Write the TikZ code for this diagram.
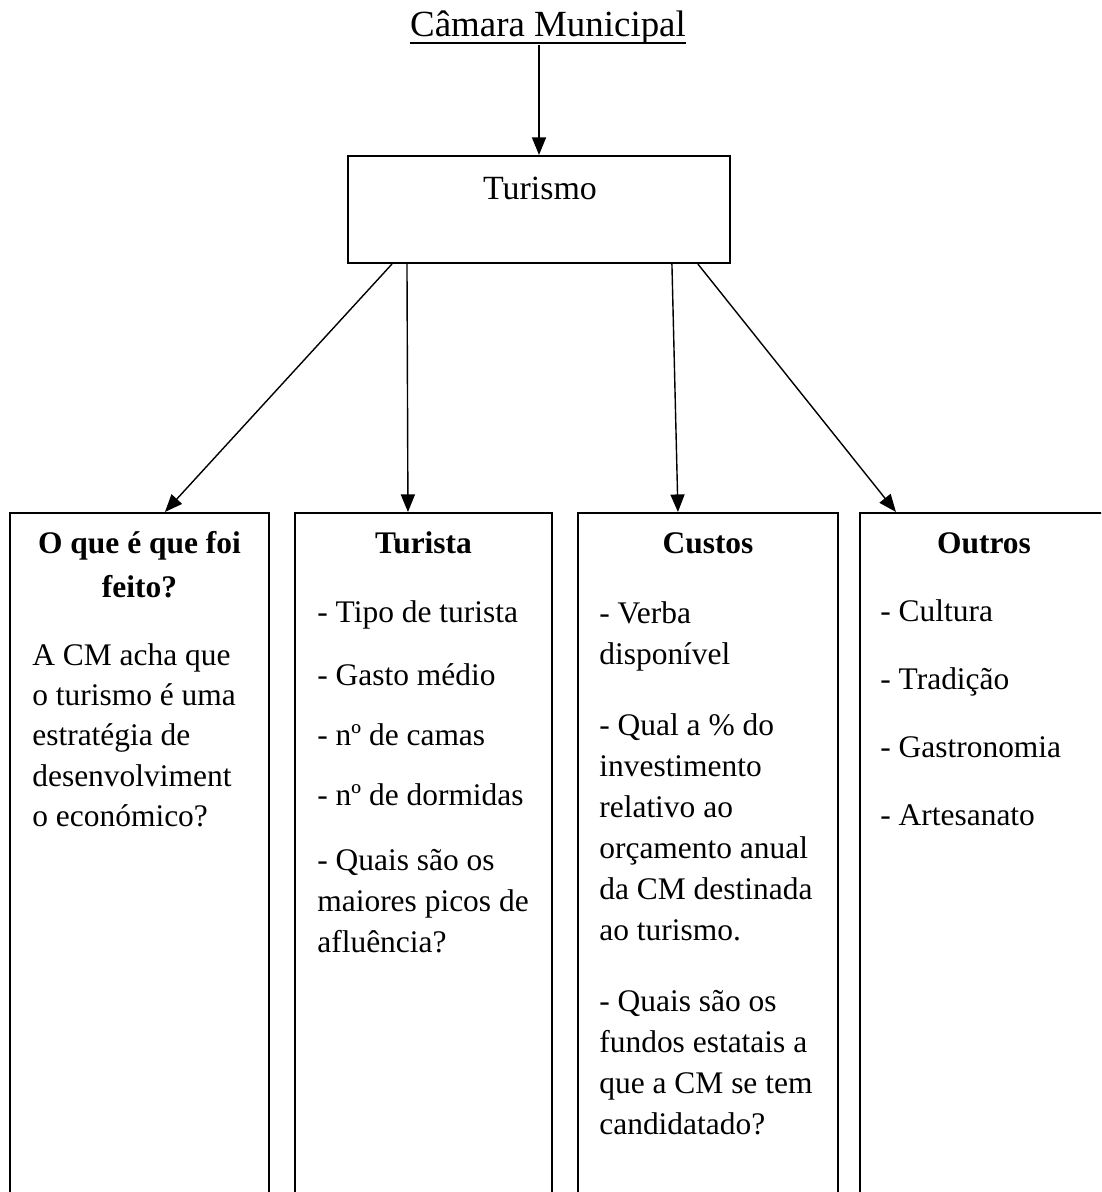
\documentclass[tikz,border=0pt]{standalone}
\usepackage{fontspec}
\setmainfont{Liberation Serif}
\usetikzlibrary{arrows.meta}
\tikzset{
  box/.style={draw, line width=1.2pt, minimum height=16cm, anchor=north, inner sep=0},
  arr/.style={-{Triangle[length=10pt,width=8pt]}, line width=0.8pt},
  txt/.style={anchor=base west, inner sep=0, font=\fontsize{17.9}{22}\selectfont},
  head/.style={anchor=base, inner sep=0, font=\fontsize{17.9}{22}\selectfont\bfseries},
}
\begin{document}
\begin{tikzpicture}[x=0.02cm, y=-0.02cm]
    \clip (0,0) rectangle (1101,1192);
    % title and top box
    \node[anchor=base, inner sep=0, font=\fontsize{21}{25}\selectfont] (camara) at (548,37) {Câmara Municipal};
    \draw[line width=0.9pt] ([yshift=-3.4pt]camara.base west) -- ([yshift=-3.4pt]camara.base east);
    \node[draw, line width=1.2pt, minimum width=7.64cm, minimum height=2.14cm, inner sep=0] (turismo) at (539,209.5) {};
    \node[anchor=base, inner sep=0, font=\fontsize{19.3}{23}\selectfont] (turismolbl) at (540,200) {Turismo};
    % the four boxes
    \node[box, minimum width=5.18cm] (feito) at (139.5,512) {};
    \node[box, minimum width=5.14cm] (turista) at (423.5,512) {};
    \node[box, minimum width=5.2cm] (custos) at (708,512) {};
    \node[box, minimum width=4.96cm] (outros) at (984,512) {};
    \node[head] (feitoa) at (139.5,553) {O que é que foi};
    \node[head] (feitob) at (139.5,597) {feito?};
    \node[head] (turistah) at (423.5,553) {Turista};
    \node[head] (custosh) at (708,553) {Custos};
    \node[head] (outrosh) at (984,553) {Outros};
    \foreach \y/\t in {665/A CM acha que, 705/o turismo é uma, 745/estratégia de,
                       786/desenvolviment, 826/o económico?}
        \node[txt] (fa\y) at (32,\y) {\t};
    \foreach \y/\t in {622/- Tipo de turista, 685/- Gasto médio, 745/- nº de camas,
                       805/- nº de dormidas, 870/- Quais são os, 911/maiores picos de,
                       952/afluência?}
        \node[txt] (tu\y) at (317,\y) {\t};
    \foreach \y/\t in {623/- Verba, 664/disponível, 735/- Qual a \% do, 776/investimento,
                       817/relativo ao, 858/orçamento anual, 899/da CM destinada,
                       940/ao turismo., 1011/- Quais são os, 1052/fundos estatais a,
                       1093/que a CM se tem, 1134/candidatado?}
        \node[txt] (cu\y) at (599,\y) {\t};
    \foreach \y/\t in {621/- Cultura, 689/- Tradição, 757/- Gastronomia, 825/- Artesanato}
        \node[txt] (ou\y) at (880,\y) {\t};
    % arrows
    \draw[arr] (camara.south -| turismo.north) -- (turismo.north);
    \draw[arr] ([xshift=0.9cm]turismo.south west) -- ([xshift=3.12cm]feito.north west);
    \draw[arr] ([xshift=1.2cm]turismo.south west) -- ([xshift=2.28cm]turista.north west);
    \draw[arr] ([xshift=6.5cm]turismo.south west) -- ([xshift=2.02cm]custos.north west);
    \draw[arr] ([xshift=7.02cm]turismo.south west) -- ([xshift=0.74cm]outros.north west);
\end{tikzpicture}
\end{document}
